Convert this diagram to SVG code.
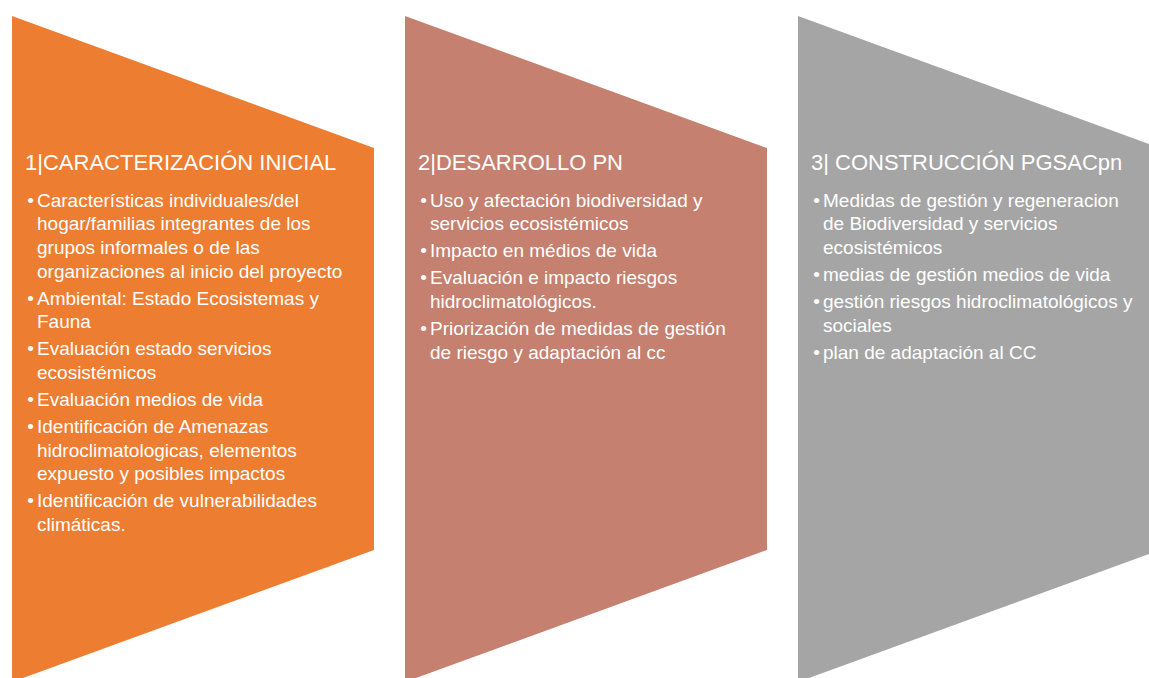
<svg xmlns="http://www.w3.org/2000/svg" width="1149" height="678" viewBox="0 0 1149 678">
<style>
.t{font-family:"Liberation Sans",Arial,sans-serif;font-size:22px;fill:#fff}
.b{font-family:"Liberation Sans",Arial,sans-serif;font-size:19px;fill:#fff}
.d{font-family:"Liberation Sans",Arial,sans-serif;font-size:19px;fill:#fff;text-anchor:middle}
</style>
<rect width="1149" height="678" fill="#fff"/>
<g id="node1">
<polygon points="12,16 374,148 374,550 12,682" fill="#ED7D31"/>
<text class="t" x="25" y="169.5">1|CARACTERIZACIÓN INICIAL</text>
<text class="d" x="30.5" y="206.5">•</text>
<text class="b" x="37" y="206.5">Características individuales/del</text>
<text class="b" x="37" y="230.2">hogar/familias integrantes de los</text>
<text class="b" x="37" y="253.9">grupos informales o de las</text>
<text class="b" x="37" y="277.6">organizaciones al inicio del proyecto</text>
<text class="d" x="30.5" y="304.6">•</text>
<text class="b" x="37" y="304.6">Ambiental: Estado Ecosistemas y</text>
<text class="b" x="37" y="328.3">Fauna</text>
<text class="d" x="30.5" y="355.3">•</text>
<text class="b" x="37" y="355.3">Evaluación estado servicios</text>
<text class="b" x="37" y="379">ecosistémicos</text>
<text class="d" x="30.5" y="406">•</text>
<text class="b" x="37" y="406">Evaluación medios de vida</text>
<text class="d" x="30.5" y="433">•</text>
<text class="b" x="37" y="433">Identificación de Amenazas</text>
<text class="b" x="37" y="456.7">hidroclimatologicas, elementos</text>
<text class="b" x="37" y="480.4">expuesto y posibles impactos</text>
<text class="d" x="30.5" y="507.4">•</text>
<text class="b" x="37" y="507.4">Identificación de vulnerabilidades</text>
<text class="b" x="37" y="531.1">climáticas.</text>
</g>
<g id="node2">
<polygon points="405,16 767,148 767,550 405,682" fill="#C5806F"/>
<text class="t" x="418" y="169.5">2|DESARROLLO PN</text>
<text class="d" x="423.5" y="206.5">•</text>
<text class="b" x="430" y="206.5">Uso y afectación biodiversidad y</text>
<text class="b" x="430" y="230.2">servicios ecosistémicos</text>
<text class="d" x="423.5" y="257.2">•</text>
<text class="b" x="430" y="257.2">Impacto en médios de vida</text>
<text class="d" x="423.5" y="284.2">•</text>
<text class="b" x="430" y="284.2">Evaluación e impacto riesgos</text>
<text class="b" x="430" y="307.9">hidroclimatológicos.</text>
<text class="d" x="423.5" y="334.9">•</text>
<text class="b" x="430" y="334.9">Priorización de medidas de gestión</text>
<text class="b" x="430" y="358.6">de riesgo y adaptación al cc</text>
</g>
<g id="node3">
<polygon points="798,16 1160,148 1160,550 798,682" fill="#A5A5A5"/>
<text class="t" x="811" y="169.5">3| CONSTRUCCIÓN PGSACpn</text>
<text class="d" x="816.5" y="206.5">•</text>
<text class="b" x="823" y="206.5">Medidas de gestión y regeneracion</text>
<text class="b" x="823" y="230.2">de Biodiversidad y servicios</text>
<text class="b" x="823" y="253.9">ecosistémicos</text>
<text class="d" x="816.5" y="280.9">•</text>
<text class="b" x="823" y="280.9">medias de gestión medios de vida</text>
<text class="d" x="816.5" y="307.9">•</text>
<text class="b" x="823" y="307.9">gestión riesgos hidroclimatológicos y</text>
<text class="b" x="823" y="331.6">sociales</text>
<text class="d" x="816.5" y="358.6">•</text>
<text class="b" x="823" y="358.6">plan de adaptación al CC</text>
</g>
<g id="connectors"></g>
</svg>
